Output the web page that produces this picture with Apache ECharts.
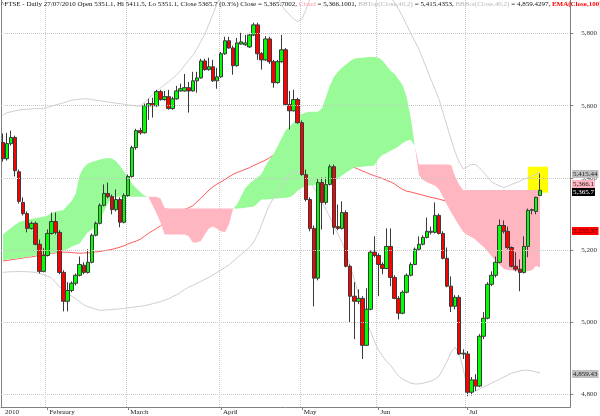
<!DOCTYPE html>
<html><head><meta charset="utf-8">
<script src="https://cdn.jsdelivr.net/npm/echarts@6.0.0/dist/echarts.min.js"></script>
<style>html,body{margin:0;padding:0;background:#fff}#c{width:600px;height:416px}</style>
</head><body><div id="c"></div><script>
// ---- data (FTSE daily, 15 Jan 2010 .. 27 Jul 2010) ----
const opens=[5498,5453,5495,5512,5417,5332,5301,5260,5274,5216,5141,5185,5246,5279,5249,5138,5058,5088,5108,5130,5158,5138,5166,5241,5274,5324,5357,5348,5312,5340,5277,5351,5404,5484,5531,5525,5600,5606,5600,5639,5617,5625,5592,5619,5641,5641,5650,5641,5669,5677,5724,5700,5708,5669,5680,5744,5780,5760,5711,5771,5769,5763,5796,5824,5744,5727,5785,5722,5664,5722,5755,5603,5586,5617,5553,5409,5340,5260,5122,5387,5332,5382,5431,5265,5260,5304,5155,5072,5058,5066,4936,5036,5194,5185,5160,5149,5210,5124,5066,5025,5083,5130,5160,5202,5216,5235,5249,5249,5296,5246,5177,5100,5044,5069,4912,4912,4806,4840,4823,4961,5011,5105,5130,5166,5268,5252,5207,5155,5147,5138,5210,5310,5307,5351.1];
const highs=[5523,5525,5531,5517,5423,5346,5307,5279,5279,5229,5205,5257,5304,5304,5255,5144,5111,5113,5135,5182,5166,5202,5246,5279,5329,5382,5387,5354,5368,5346,5357,5409,5489,5536,5539,5606,5619,5622,5644,5644,5641,5644,5625,5655,5661,5688,5666,5694,5694,5730,5730,5733,5727,5705,5749,5791,5791,5766,5788,5802,5796,5802,5830,5830,5749,5793,5791,5727,5727,5796,5760,5641,5644,5622,5559,5423,5346,5268,5398,5401,5401,5437,5437,5326,5335,5310,5160,5111,5091,5072,5094,5199,5238,5191,5166,5260,5260,5130,5072,5088,5135,5166,5207,5238,5241,5290,5265,5332,5301,5252,5207,5127,5075,5075,4925,4920,4848,4856,4967,5028,5111,5141,5182,5285,5282,5265,5210,5194,5174,5238,5315,5315,5348,5411.5];
const lows=[5445,5448,5490,5404,5329,5296,5249,5257,5213,5135,5138,5182,5243,5243,5133,5030,5030,5083,5102,5127,5133,5135,5163,5238,5271,5321,5343,5299,5307,5263,5274,5348,5401,5478,5520,5523,5561,5567,5597,5614,5614,5589,5589,5617,5639,5639,5581,5639,5636,5675,5697,5697,5666,5647,5677,5741,5758,5686,5708,5769,5766,5760,5793,5727,5700,5724,5716,5650,5661,5719,5600,5534,5584,5550,5406,5335,5252,5044,5116,5257,5326,5379,5243,5255,5257,5152,5000,4953,5050,4898,4934,5033,5180,5072,5133,5147,5100,5064,5008,5022,5080,5127,5158,5199,5213,5232,5243,5246,5243,5174,5097,5028,5036,4909,4898,4795,4797,4809,4820,4953,5008,5100,5124,5163,5246,5202,5152,5141,5086,5135,5180,5299,5299,5351.1];
const closes=[5453,5495,5512,5420,5335,5301,5260,5274,5216,5141,5185,5246,5279,5249,5138,5058,5088,5108,5130,5160,5138,5166,5241,5274,5324,5357,5348,5312,5340,5277,5351,5404,5484,5531,5525,5600,5606,5600,5639,5617,5625,5592,5619,5641,5647,5650,5641,5669,5677,5724,5700,5708,5669,5680,5744,5780,5760,5711,5774,5777,5774,5796,5824,5744,5727,5785,5722,5664,5722,5755,5603,5586,5617,5553,5409,5340,5260,5122,5387,5332,5382,5431,5263,5260,5304,5155,5072,5058,5066,4936,5036,5194,5185,5160,5149,5210,5124,5066,5025,5083,5130,5160,5202,5216,5235,5252,5252,5296,5246,5177,5100,5044,5069,4912,4914,4806,4840,4823,4961,5011,5105,5130,5166,5268,5252,5207,5155,5147,5138,5210,5310,5312,5346,5365.7];
const spanA=[5243,5253,5261,5270,5278,5281,5283,5286,5288,5290,5292,5296,5302,5307,5309,5311,5324,5336,5356,5408,5429,5439,5444,5447,5451,5453,5455,5454,5446,5433,5417,5401,5383,5372,5361,5351,5348,
5325,5302,5277,5244,5243,5243,5243,5243,5243,5238,5221,5221,5225,5244,5260,5265,5259,5252,5249,5272,5315,
5327,5350,5371,5384,5393,5401,5410,5432,5451,5466,5487,5510,5531,5542,5554,5567,5577,5581,5583,5583,5583,5593,5624,5657,5680,5695,5706,5714,5724,5730,5732,5733,5734,5735,5735,5733,5725,5711,5697,5688,5673,5657,5623,5566,5489,
5408,5395,5388,5383,5378,5368,5347,5325,5304,5286,5267,5250,5242,5236,5229,5218,5209,5197,5183,5170,5159,5148,5145,5143,5142,5141,5141,5141,5144,5156,5152];
const spanB=[5171,5174,5175,5176,5177,5179,5181,5183,5185,5187,5189,5190,5191,5193,5194,5198,5203,5209,5214,5218,5234,5249,5256,5269,5285,5307,5330,5344,5348,5348,5348,5348,5348,5348,5348,5348,5348,
5348,5348,5343,5317,5315,5315,5315,5315,5315,5315,5315,5315,5315,5315,5315,5315,5315,5315,5315,5315,5315,
5315,5316,5317,5319,5320,5329,5340,5340,5341,5342,5343,5344,5345,5346,5353,5365,5372,5377,5378,5380,5381,5383,5385,5387,5390,5398,5407,5415,5422,5429,5430,5431,5432,5433,5434,5453,5464,5468,5475,5481,5488,5497,5503,5506,5489,
5437,5437,5437,5437,5437,5437,5437,5437,5436,5404,5381,5366.1,5366.1,5366.1,5366.1,5366.1,5366.1,5366.1,5366.1,5366.1,5366.1,5366.1,5366.1,5366.1,5366.1,5366.1,5366.1,5366.1,5366.1,5366.1,5366.1];
const bbTop=[5574,5581,5583,5586,5588,5590,5590,5591,5592,5592,5592,5595,5599,5602,5605,5608,5612,5615,5617,5618,5619,5619,5617,5615,5614,5612,5610,5609,5607,5606,5604,5602,5601,5599,5599,5609,5619,5630,5640,5649,5658,5666,5676,5685,5698,5712,5726,5739,5757,5778,5799,5826,5854,5882,5908,5937,5952,5967,5982,5990,5987,5984,5982,5979,5975,5955,5937,5924,5903,5878,5863,5852,5840,5833,5839,5865,5896,5918,5940,5956,5967,5973,5982,5987,5990,5990,5990,5990,5990,5982,5975,5966,5958,5950,5935,5918,5901,5885,5868,5846,5824,5801,5779,5757,5729,5701,5673,5646,5617,5581,5543,5506,5471,5443,5425,5431,5437,5437,5428,5416,5403,5389,5383,5378,5373,5377,5382,5386,5391,5396,5400,5405,5410,5415.44];
const bbBot=[5138,5139,5140,5140,5141,5140,5140,5139,5138,5135,5132,5128,5122,5111,5098,5087,5079,5072,5065,5057,5048,5043,5040,5036,5033,5034,5034,5035,5036,5037,5038,5040,5041,5043,5044,5046,5048,5051,5054,5057,5061,5065,5071,5076,5083,5091,5097,5102,5108,5113,5119,5124,5131,5138,5145,5152,5159,5169,5179,5188,5198,5207,5221,5241,5268,5299,5326,5343,5359,5379,5395,5409,5417,5417,5412,5401,5390,5373,5354,5332,5312,5290,5265,5243,5221,5191,5155,5119,5080,5039,5003,4975,4947,4923,4906,4892,4881,4865,4851,4842,4837,4831,4829,4829,4831,4834,4837,4842,4851,4870,4892,4917,4931,4912,4870,4820,4809,4809,4815,4820,4826,4831,4837,4842,4848,4853,4859,4862,4865,4867,4867,4865,4862,4859.43];
const ema100=[5170,5171,5173,5175,5176,5178,5180,5181,5183,5185,5187,5189,5191,5192,5194,5194,5194,5193,5192,5191,5192,5192,5193,5195,5196,5198,5200,5202,5205,5208,5212,5217,5221,5225,5230,5238,5246,5253,5260,5267,5277,5286,5296,5304,5308,5313,5317,5323,5333,5343,5355,5366,5375,5383,5389,5396,5403,5410,5415,5419,5424,5428,5434,5439,5444,5449,5456,5463,5465,5466,5467,5467,5467,5466,5466,5465,5464,5462,5459,5456,5453,5450,5447,5444,5440,5437,5433,5429,5424,5419,5415,5410,5406,5402,5398,5393,5389,5383,5375,5368,5363,5361,5358,5355,5352,5349,5346,5344,5341,5338,5335,5332,5329,5326,5322,5318,5314,5310,5307,5303,5299,5295,5291,5287,5284,5280,5277,5274,5270,5267,5264,5261,5257,5255.37];
const yTicks=[4800,5000,5200,5400,5600,5800];
const tickLabels=['2010','February','March','April','May','Jun','Jul'];
const lastValues=[5415.44,5366.1,5365.7,5255.37,4859.43];
const highlightBox=[5431,5359];
const holidays=['2010-04-02','2010-04-05','2010-05-03','2010-05-31'];

// ---- categories: trading days ----
const dates=[];
{ let d=new Date(Date.UTC(2010,0,15));
  while(dates.length<closes.length+7){
    const w=d.getUTCDay(), s=d.toISOString().slice(0,10);
    if(w!==0&&w!==6&&!holidays.includes(s)) dates.push(s);
    d.setUTCDate(d.getUTCDate()+1);
  } }
const isMonth=dates.map((s,i)=> i<closes.length && (i===0 || s.slice(5,7)!==dates[i-1].slice(5,7)));
const monthLabel=(s,i)=> i===0?tickLabels[0]:tickLabels[+s.slice(5,7)-1];

const candles=opens.map((o,i)=>[o,closes[i],lows[i],highs[i]]);
const cloudBase=spanA.map((a,i)=>Math.min(a,spanB[i]));
const cloudUp=spanA.map((a,i)=>a>spanB[i]?a-spanB[i]:0);
const cloudDown=spanA.map((a,i)=>spanB[i]>a?spanB[i]-a:0);

const FONT='Liberation Serif';
const fmt=v=>v.toLocaleString('en-US',{maximumFractionDigits:2});
const chart=echarts.init(document.getElementById('c'),null,{renderer:'canvas'});
const gridR=29;
chart.setOption({
  animation:false,
  backgroundColor:'#fff',
  title:{left:1,top:1,padding:0,
    text:'{k|^FTSE - Daily 27/07/2010 Open 5351.1, Hi 5411.5, Lo 5351.1, Close 5365.7 (0.3%) Close = 5,365.7002, }{p|Cloud}{k| = 5,366.1001, }{g|BBTop(Close,40,2)}{k| = 5,415.4353, }{g|BBBot(Close,40,2)}{k| = 4,859.4297, }{r|EMA(Close,100)}{k| = 5,255.3691}',
    textStyle:{fontSize:7,fontFamily:FONT,fontWeight:'normal',
      rich:{k:{color:'#111',fontSize:7,fontFamily:FONT},p:{color:'#ff9aa8',fontSize:7,fontFamily:FONT},g:{color:'#b8b8b8',fontSize:7,fontFamily:FONT},r:{color:'#ff0000',fontSize:7,fontFamily:FONT,fontWeight:'bold'}}}},
  grid:{left:1,right:gridR,top:0,bottom:8,containLabel:false},
  xAxis:{type:'category',data:dates,boundaryGap:true,
    axisLine:{show:true,lineStyle:{color:'#808080',width:1}},
    axisTick:{show:true,alignWithLabel:true,length:3,interval:(i)=>isMonth[i]&&i>0,lineStyle:{color:'#808080'}},
    axisLabel:{interval:(i)=>isMonth[i],formatter:(v,i)=>monthLabel(v,i),fontSize:7,fontFamily:FONT,color:'#222',align:'left',margin:2,padding:[0,0,0,2]},
    splitLine:{show:true,interval:(i)=>isMonth[i]&&i>0,lineStyle:{type:'dotted',color:'#c8c8c8',width:1}}},
  yAxis:[{type:'value',position:'right',min:4765,max:5893,scale:true,
    axisLine:{show:true,lineStyle:{color:'#808080'}},
    axisTick:{show:true,length:3,customValues:yTicks,lineStyle:{color:'#808080'}},
    axisLabel:{customValues:yTicks,formatter:v=>fmt(v),fontSize:7,fontFamily:FONT,color:'#333',margin:11},
    splitLine:{show:false}},
   {type:'value',position:'left',min:4765,max:5893,axisLine:{show:true,lineStyle:{color:'#808080'}},axisTick:{show:false},axisLabel:{show:false},splitLine:{show:false}}],
  series:[
    {name:'EMA',type:'line',data:ema100,symbol:'none',z:1,silent:true,lineStyle:{color:'#ff5a5a',width:1},
      markLine:{silent:true,symbol:'none',label:{show:false},lineStyle:{type:'dotted',color:'#c8c8c8',width:1},data:yTicks.map(v=>({yAxis:v}))}},
    {name:'cloudBase',type:'line',stack:'cloud',data:cloudBase,symbol:'none',z:2,silent:true,lineStyle:{opacity:0,width:0}},
    {name:'cloudUp',type:'line',stack:'cloud',data:cloudUp,symbol:'none',z:2,silent:true,lineStyle:{opacity:0,width:0},areaStyle:{color:'#98fb98',opacity:1}},
    {name:'cloudDown',type:'line',stack:'cloud',data:cloudDown,symbol:'none',z:2,silent:true,lineStyle:{opacity:0,width:0},areaStyle:{color:'#ffb6c1',opacity:1}},
    {name:'BBTop',type:'line',data:bbTop,symbol:'none',z:3,silent:true,lineStyle:{color:'#cfcfcf',width:1}},
    {name:'BBBot',type:'line',data:bbBot,symbol:'none',z:3,silent:true,lineStyle:{color:'#cfcfcf',width:1}},
    {name:'FTSE',type:'candlestick',data:candles,barWidth:4,z:4,silent:true,
      itemStyle:{color:'#00ff00',color0:'#ff0000',borderColor:'#3a3a3a',borderColor0:'#3a3a3a',borderWidth:1},
      markArea:{silent:true,itemStyle:{color:'#ffff00',opacity:1},
        data:[[{xAxis:dates[closes.length-4],yAxis:highlightBox[0]},{xAxis:dates[closes.length+1],yAxis:highlightBox[1]}]]}}
  ]
});
// value tags on the right axis
const tagStyles=[{bg:'#c0c0c0',fg:'#222',dy:1.5},{bg:'#ffb6c1',fg:'#222',dy:-6},{bg:'#000000',fg:'#ffffff',dy:1.5},{bg:'#ff0000',fg:'#5a0000',dy:1},{bg:'#c0c0c0',fg:'#222',dy:1.5}];
const tags=lastValues.map((v,i)=>{
  const y=chart.convertToPixel({yAxisIndex:0},v);
  const st=tagStyles[i];
  return {type:'text',left:600-gridR+1,top:Math.round(y-4+st.dy),z:100,
    style:{text:fmt(v),fill:st.fg,backgroundColor:st.bg,padding:[1,1,0,1],fontSize:7,fontFamily:FONT}};
});
chart.setOption({graphic:tags});
</script></body></html>
